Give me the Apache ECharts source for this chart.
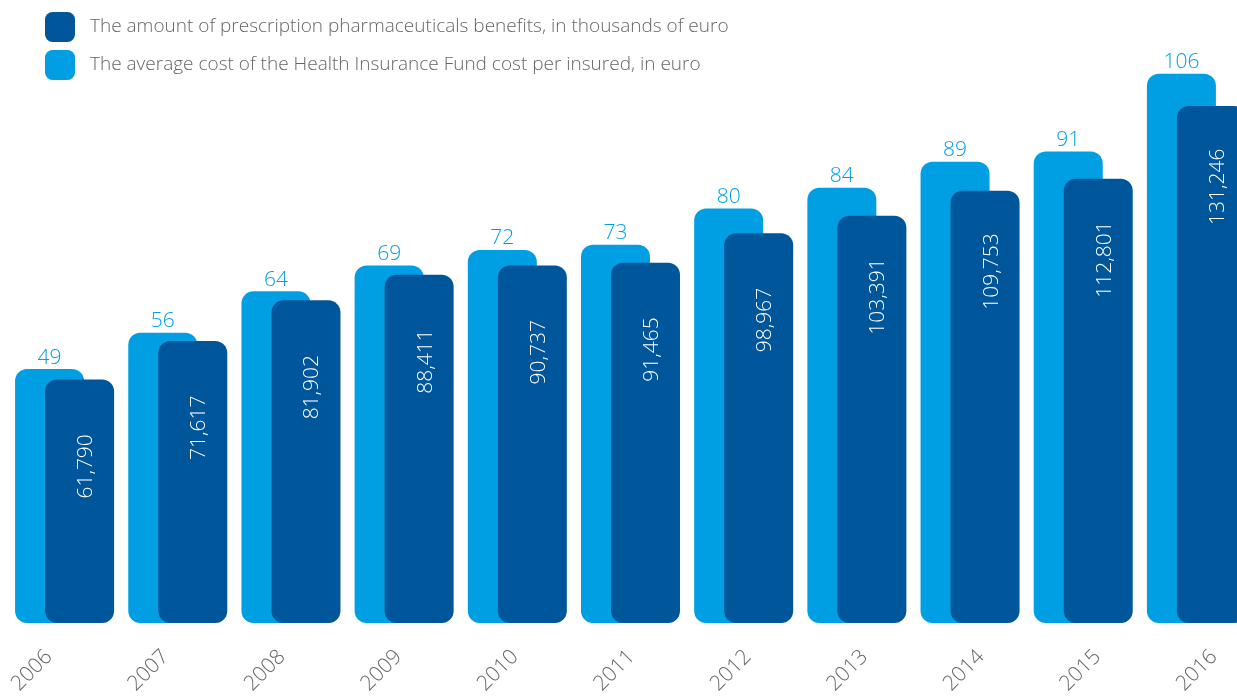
<!DOCTYPE html>
<html>
<head>
<meta charset="utf-8">
<script src="https://cdn.jsdelivr.net/npm/echarts@6/dist/echarts.min.js"></script>
<style>
  html, body { margin: 0; padding: 0; background: #ffffff; overflow: hidden; width: 1237px; height: 697px; }
  /* canvas is a little wider than the page so the last bar pair runs off the right edge */
  #chart { position: absolute; left: -20px; top: 0; width: 1300px; height: 697px; }
</style>
</head>
<body>
<div id="chart"></div>
<script>
// Years shown along the bottom
const years = ['2006', '2007', '2008', '2009', '2010', '2011', '2012', '2013', '2014', '2015', '2016'];
// Prescription pharmaceuticals benefits, thousands of euro
const benefits = [61790, 71617, 81902, 88411, 90737, 91465, 98967, 103391, 109753, 112801, 131246];
// Average Health Insurance Fund cost per insured, euro
const avgCost = [49, 56, 64, 69, 72, 73, 80, 84, 89, 91, 106];

const nameBenefits = 'The amount of prescription pharmaceuticals benefits, in thousands of euro';
const nameCost = 'The average cost of the Health Insurance Fund cost per insured, in euro';

const LIGHT = '#009fe3';
const DARK = '#00569b';
const FONT = '"Open Sans", "Noto Sans", sans-serif';
const OFF = 20; // horizontal shift of the canvas relative to the page

const chart = echarts.init(document.getElementById('chart'), null, { renderer: 'canvas' });

chart.setOption({
  backgroundColor: '#ffffff',
  animation: false,
  legend: {
    data: [nameBenefits, nameCost],
    orient: 'vertical',
    left: 40 + OFF,
    top: 7,
    itemWidth: 30,
    itemHeight: 30,
    itemGap: 8,
    icon: 'roundRect',
    textStyle: { color: '#666666', fontSize: 19, fontFamily: FONT, fontWeight: 300, padding: [0, 0, 0, 10] },
    selectedMode: false
  },
  grid: [
    { left: 8 + OFF, width: 1245, top: 53, height: 570 },
    { left: -9.25 + OFF, width: 1281.5, top: 53, height: 570 }
  ],
  xAxis: [
    {
      type: 'category', gridIndex: 0, data: years,
      axisLine: { show: false }, axisTick: { show: false }, axisLabel: { show: false }
    },
    {
      type: 'category', gridIndex: 1, data: years,
      axisLine: { show: false }, axisTick: { show: false },
      axisLabel: {
        rotate: 45, margin: 37, color: '#666666', fontSize: 21,
        fontFamily: FONT, fontWeight: 300, interval: 0
      }
    }
  ],
  yAxis: [
    { type: 'value', gridIndex: 0, min: 0, max: 110, show: false },
    { type: 'value', gridIndex: 0, min: 0, max: 144700, show: false },
    { type: 'value', gridIndex: 1, min: 0, max: 1, show: false }
  ],
  series: [
    {
      name: nameCost,
      type: 'bar',
      xAxisIndex: 0,
      yAxisIndex: 0,
      data: avgCost,
      barWidth: 69,
      barGap: '-56.5%',
      itemStyle: { color: LIGHT, borderRadius: 12 },
      label: {
        show: true, position: 'top', distance: 1,
        color: LIGHT, fontSize: 21, fontFamily: FONT, fontWeight: 300
      }
    },
    {
      name: nameBenefits,
      type: 'bar',
      xAxisIndex: 0,
      yAxisIndex: 1,
      data: benefits,
      barWidth: 69,
      barGap: '-56.5%',
      itemStyle: { color: DARK, borderRadius: 12 },
      label: {
        show: true,
        position: [41, 119],
        rotate: 90,
        align: 'left',
        verticalAlign: 'middle',
        color: '#ffffff', fontSize: 21, fontFamily: FONT, fontWeight: 300,
        formatter: p => p.value.toLocaleString('en-US')
      }
    }
  ]
});
</script>
</body>
</html>
